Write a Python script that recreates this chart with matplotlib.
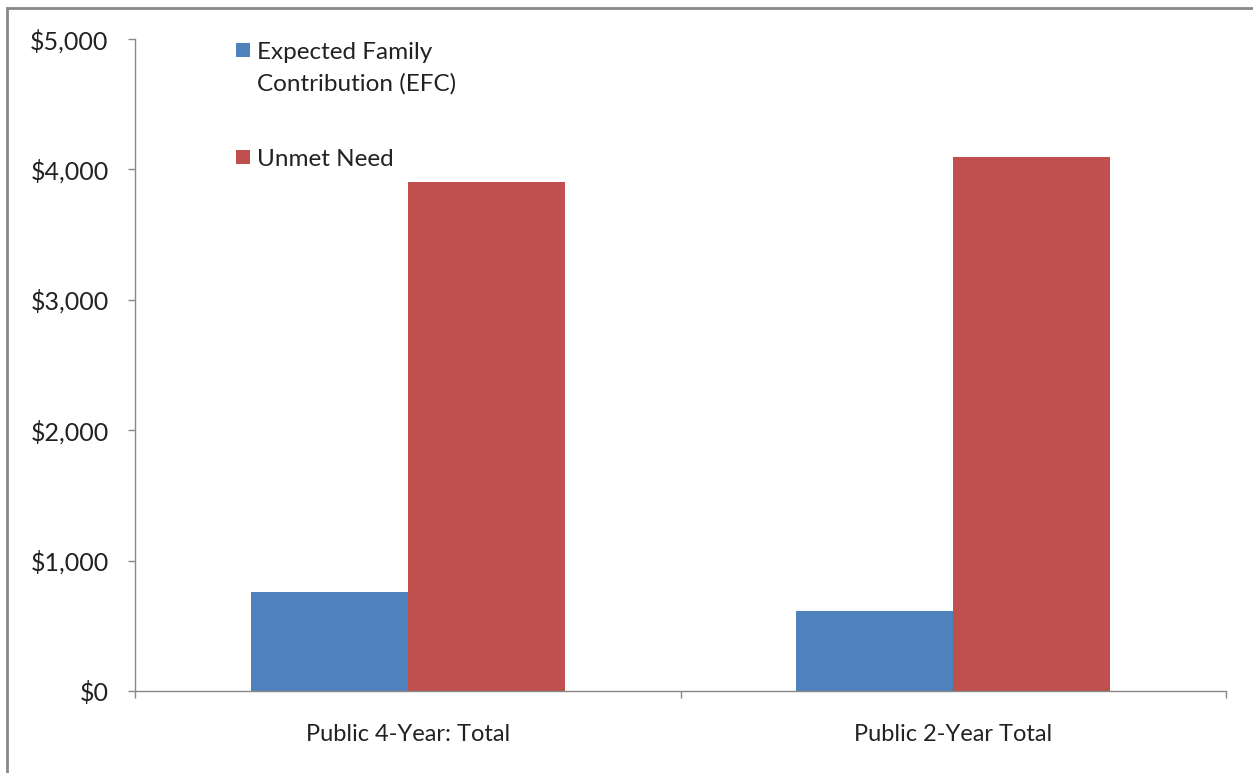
import matplotlib
matplotlib.use("Agg")
import matplotlib.pyplot as plt
from matplotlib.patches import Rectangle
from matplotlib.ticker import FuncFormatter
import numpy as np

categories = ["Public 4-Year: Total", "Public 2-Year Total"]
efc = [760, 615]
unmet = [3905, 4095]
series_labels = ["Expected Family\nContribution (EFC)", "Unmet Need"]
colors = ["#4F81BD", "#C0504D"]

plt.rcParams['font.family'] = ['Lato', 'DejaVu Sans']

W, H = 1253, 773
fig = plt.figure(figsize=(W/100, H/100), dpi=100)
ax = fig.add_axes([135/W, 1-691/H, (1226-135)/W, (691-39)/H])

x = np.arange(len(categories))
w = 0.2875
ax.bar(x - w/2, efc, w, color=colors[0], label=series_labels[0])
ax.bar(x + w/2, unmet, w, color=colors[1], label=series_labels[1])

ax.set_xlim(-0.5, len(categories) - 0.5)
ax.set_ylim(0, 5000)
ax.set_yticks(np.arange(0, 5001, 1000))
ax.yaxis.set_major_formatter(FuncFormatter(lambda v, p: f"${int(v):,}"))
ax.set_xticks(x)
ax.set_xticklabels(categories)
ax.set_xticks(np.arange(-0.5, len(categories), 1.0), minor=True)
ax.tick_params(axis='x', which='major', length=0, pad=24, labelsize=17, colors='#222222')
ax.tick_params(axis='x', which='minor', length=5, color='#888888', width=1)
ax.tick_params(axis='y', length=5, color='#888888', width=1, labelsize=18, pad=14, labelcolor='#222222')

for s in ['top', 'right']:
    ax.spines[s].set_visible(False)
for s in ['left', 'bottom']:
    ax.spines[s].set_color('#888888')
    ax.spines[s].set_linewidth(1)

# legend drawn manually (square aligned to first text line, as in reference)
leg_tops = [43, 150]
for lab, col, top in zip(series_labels, colors, leg_tops):
    fig.patches.append(Rectangle((236/W, 1-(top+14)/H), 14/W, 14/H, transform=fig.transFigure,
                                 facecolor=col, edgecolor='none'))
    fig.text(257/W, 1-(top-1)/H, lab, fontsize=17.5, color='#222222', va='top',
             linespacing=1.6)

fig.patches.append(Rectangle((7/W, -0.1), 1.2, 0.1 + 1 - 8/H, transform=fig.transFigure,
                             fill=False, edgecolor='#888888', linewidth=2))

fig.savefig("out.png", dpi=100)
